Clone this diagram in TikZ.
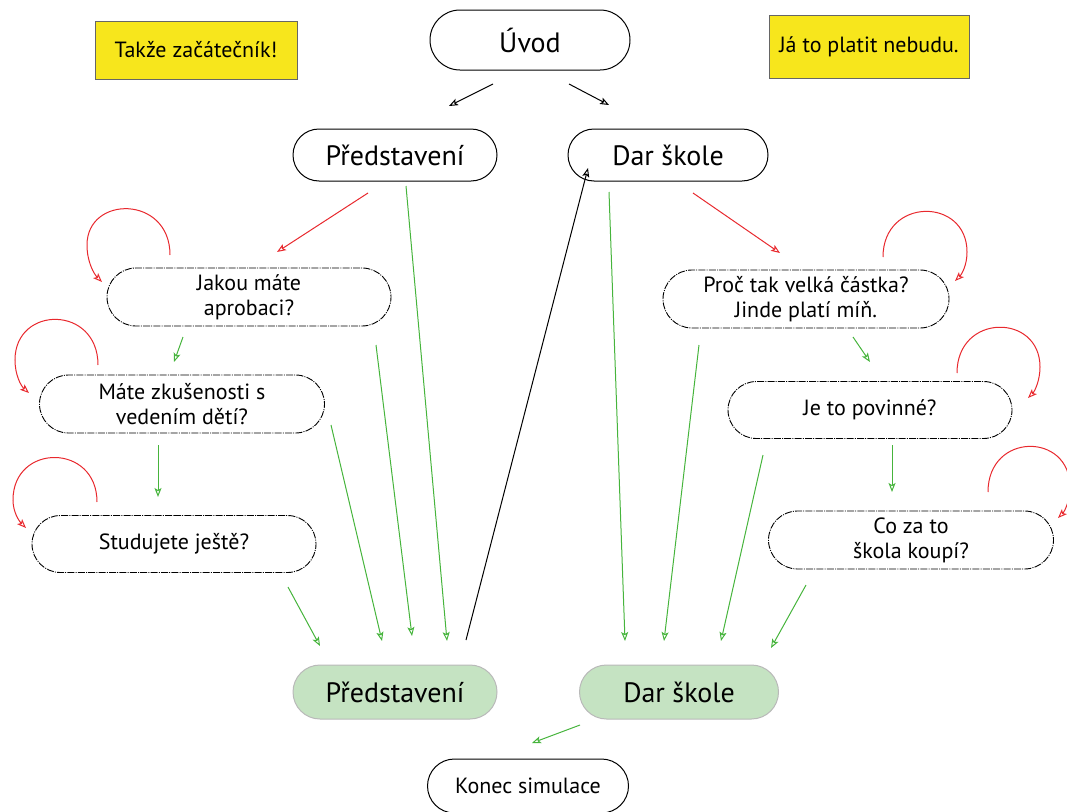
\documentclass[tikz,border=0pt]{standalone}
\usepackage{fontspec}
\setmainfont{PT Sans}
\usetikzlibrary{shapes.misc,arrows.meta}
\definecolor{boxyellow}{RGB}{247,230,28}
\definecolor{donegreen}{RGB}{197,227,194}
\definecolor{linegreen}{RGB}{70,180,60}
\definecolor{linered}{RGB}{232,40,45}
\begin{document}
\begin{tikzpicture}[x=1pt,y=-1pt,
  tip/.style={-{Stealth[open,length=9pt,width=7pt,inset=2pt]}},
  term/.style={rounded rectangle, draw=black, line width=1pt, inner sep=0pt,
    font=\fontsize{28}{32}\selectfont},
  ques/.style={rounded rectangle, draw=black, line width=0.9pt, inner sep=0pt,
    dash pattern=on 7pt off 1.2pt on 1pt off 1.2pt,
    align=center, font=\fontsize{22}{25}\selectfont},
  done/.style={rounded rectangle, draw=gray!55, fill=donegreen, line width=1pt, inner sep=0pt,
    font=\fontsize{28}{32}\selectfont},
  note/.style={rectangle, draw=gray!80!black, fill=boxyellow, line width=1pt, inner sep=0pt,
    font=\fontsize{22}{26}\selectfont},
  blk/.style={tip, draw=black, line width=1pt},
  grn/.style={tip, draw=linegreen, line width=1pt},
  rd/.style={tip, draw=linered, line width=1pt}
]
\useasboundingbox (0,0) rectangle (1067,811);

% notes
\node[note, minimum width=202pt, minimum height=58pt] (n1) at (196,50) {Takže začátečník!};
\node[note, minimum width=200pt, minimum height=63pt] (n2) at (869,47) {Já to platit nebudu.};

% terminals
\node[term, minimum width=200pt, minimum height=60pt] (uvod) at (530,40) {Úvod};
\node[term, minimum width=204pt, minimum height=52pt] (pred) at (395,155) {Představení};
\node[term, minimum width=200pt, minimum height=52pt] (dar) at (668,155) {Dar škole};
\node[term, font=\fontsize{22}{26}\selectfont, minimum width=201pt, minimum height=54pt] (konec) at (528,786) {Konec simulace};

% questions
\node[ques, minimum width=284pt, minimum height=58pt] (q1) at (249,297) {Jakou máte\\aprobaci?};
\node[ques, minimum width=285pt, minimum height=58pt] (q2) at (182,404) {Máte zkušenosti s\\vedením dětí?};
\node[ques, minimum width=284pt, minimum height=57pt] (q3) at (174,544) {Studujete ještě?};
\node[ques, minimum width=286pt, minimum height=58pt] (r1) at (806,299) {Proč tak velká částka?\\Jinde platí míň.};
\node[ques, minimum width=284pt, minimum height=57pt] (r2) at (870,410) {Je to povinné?};
\node[ques, minimum width=285pt, minimum height=58pt] (r3) at (911,540) {Co za to\\škola koupí?};

% results
\node[done, minimum width=204pt, minimum height=54pt] (gp) at (395,692) {Představení};
\node[done, minimum width=199pt, minimum height=54pt] (gd) at (679,692) {Dar škole};

% black arrows
\coordinate (b1s) at (493,84); \coordinate (b1e) at (449,106);
\coordinate (b2s) at (569,84); \coordinate (b2e) at (609,105);
\coordinate (b3s) at (466,640); \coordinate (b3e) at (588,168);
\draw[blk] (b1s) -- (b1e);
\draw[blk] (b2s) -- (b2e);
\draw[blk] (b3s) -- (b3e);

% red arrows
\coordinate (r1s) at (368,193); \coordinate (r1e) at (277,252);
\coordinate (r2s) at (693,193); \coordinate (r2e) at (780,253);
\draw[rd] (r1s) -- (r1e);
\draw[rd] (r2s) -- (r2e);

% red loops
\coordinate (l1s) at (170,255); \coordinate (l1e) at (102,282);
\draw[rd] (l1s) .. controls (170,195) and (87,195) .. (87,245) .. controls (87,262) and (94,274) .. (l1e);
\coordinate (l2s) at (98,365); \coordinate (l2e) at (29,393);
\draw[rd] (l2s) .. controls (98,305) and (15,305) .. (15,360) .. controls (15,375) and (21,386) .. (l2e);
\coordinate (l3s) at (97,502); \coordinate (l3e) at (26,528);
\draw[rd] (l3s) .. controls (97,443) and (13,443) .. (13,500) .. controls (13,512) and (19,521) .. (l3e);
\coordinate (l4s) at (883,257); \coordinate (l4e) at (955,281);
\draw[rd] (l4s) .. controls (883,197) and (967,197) .. (967,252) .. controls (967,265) and (962,274) .. (l4e);
\coordinate (l5s) at (957,373); \coordinate (l5e) at (1028,398);
\draw[rd] (l5s) .. controls (957,313) and (1040,313) .. (1040,367) .. controls (1040,380) and (1035,391) .. (l5e);
\coordinate (l6s) at (988,492); \coordinate (l6e) at (1058,518);
\draw[rd] (l6s) .. controls (988,432) and (1070,432) .. (1070,487) .. controls (1070,500) and (1065,511) .. (l6e);

% green arrows
\coordinate (g1s) at (183,337); \coordinate (g1e) at (174,362);
\coordinate (g2s) at (158,445); \coordinate (g2e) at (158,497);
\coordinate (g3s) at (853,337); \coordinate (g3e) at (870,362);
\coordinate (g4s) at (892,445); \coordinate (g4e) at (892,492);
\draw[grn] (g1s) -- (g1e);
\draw[grn] (g2s) -- (g2e);
\draw[grn] (g3s) -- (g3e);
\draw[grn] (g4s) -- (g4e);

\coordinate (p1s) at (288,587); \coordinate (p1e) at (320,646);
\coordinate (p2s) at (331,425); \coordinate (p2e) at (382,641);
\coordinate (p3s) at (376,345); \coordinate (p3e) at (412,636);
\coordinate (p4s) at (406,186); \coordinate (p4e) at (447,641);
\draw[grn] (p1s) -- (p1e);
\draw[grn] (p2s) -- (p2e);
\draw[grn] (p3s) -- (p3e);
\draw[grn] (p4s) -- (p4e);

\coordinate (d1s) at (609,192); \coordinate (d1e) at (625,641);
\coordinate (d2s) at (699,345); \coordinate (d2e) at (664,641);
\coordinate (d3s) at (763,455); \coordinate (d3e) at (721,641);
\coordinate (d4s) at (806,585); \coordinate (d4e) at (771,648);
\draw[grn] (d1s) -- (d1e);
\draw[grn] (d2s) -- (d2e);
\draw[grn] (d3s) -- (d3e);
\draw[grn] (d4s) -- (d4e);

\coordinate (k1s) at (580,725); \coordinate (k1e) at (532,743);
\draw[grn] (k1s) -- (k1e);
\end{tikzpicture}
\end{document}
